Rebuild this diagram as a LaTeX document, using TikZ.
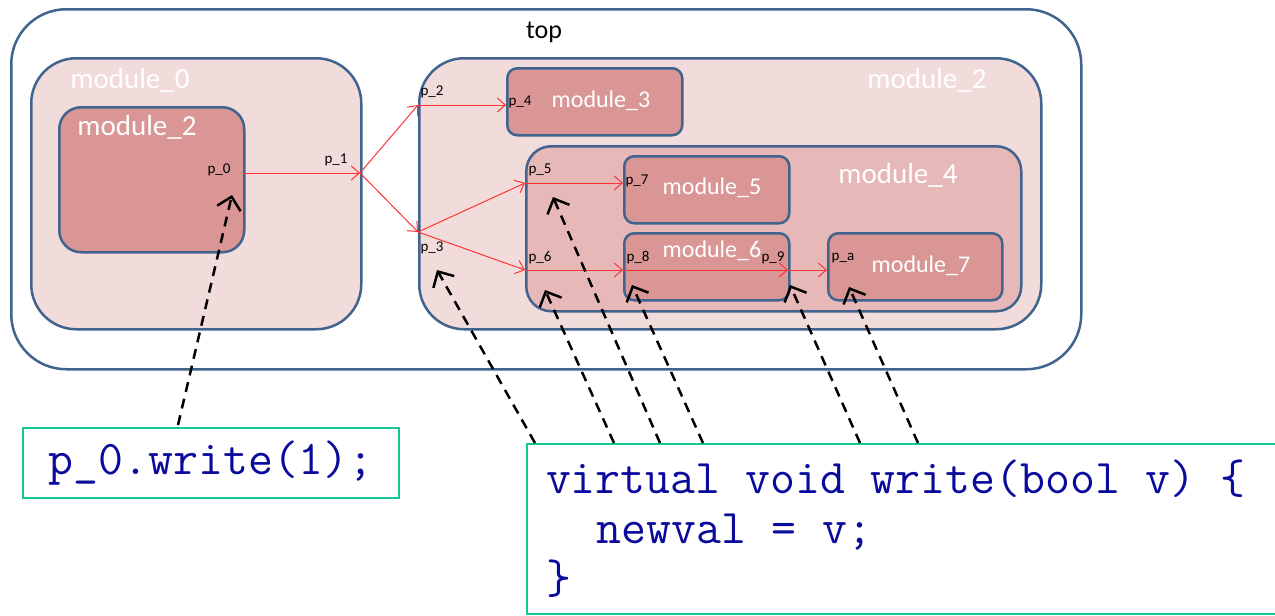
\documentclass[tikz,border=0pt]{standalone}
\usepackage{fontspec}
\setmainfont{Carlito}
\newcommand\codestyle{\ttfamily\fontsize{48.4}{50}\selectfont}
\newcommand\codesp{\hspace*{0.525em}}
\usetikzlibrary{arrows.meta}
\definecolor{frame}{HTML}{41648F}
\definecolor{paleroz}{HTML}{F2DCDB}
\definecolor{midroz}{HTML}{E6B9B8}
\definecolor{darkroz}{HTML}{D99694}
\definecolor{codeblue}{HTML}{0A0A9C}
\definecolor{codeframe}{HTML}{14C896}
\definecolor{sigred}{HTML}{FF3333}
\begin{document}
\begin{tikzpicture}[x=1pt, y=-1pt,
    box/.style={draw=frame, line width=2.5pt, anchor=north west, inner sep=0pt},
    modname/.style={text=white, font=\fontsize{29}{30}\selectfont},
    leafname/.style={text=white, font=\fontsize{24}{26}\selectfont},
    portname/.style={font=\fontsize{15}{16}\selectfont, inner sep=0pt},
    sig/.style={->, >={Straight Barb[length=8pt,width=14pt]}, draw=sigred, line width=1pt},
    call/.style={->, >={Straight Barb[length=12pt,width=24pt]}, line width=2.5pt, dash pattern=on 10pt off 7pt},
    codebox/.style={draw=codeframe, line width=2pt, anchor=north west, text=codeblue, font=\codestyle}
]
    \useasboundingbox (0,0) rectangle (1275,616);

    \node[box, rounded corners=55pt, fill=white, minimum width=1070pt, minimum height=360pt] at (10,8) (top) {};
    \node[font=\fontsize{26}{28}\selectfont] at (544,32) (toplbl) {top};

    \node[box, rounded corners=45pt, fill=paleroz, minimum width=330pt, minimum height=271pt] at (30,57) (m0) {};
    \node[modname] at (130,80) (m0lbl) {module\_0};
    \node[box, rounded corners=22pt, fill=darkroz, minimum width=185pt, minimum height=145pt] at (58,106) (m2a) {};
    \node[modname] at (137,127) (m2albl) {module\_2};

    \node[box, rounded corners=45pt, fill=paleroz, minimum width=622pt, minimum height=271pt] at (418,57) (m2) {};
    \node[modname] at (927,80) (m2lbl) {module\_2};
    \node[box, rounded corners=10pt, fill=darkroz, minimum width=175pt, minimum height=67pt] at (506,67) (m3) {};
    \node[leafname] at (601,101) (m3lbl) {module\_3};
    \node[box, rounded corners=25pt, fill=midroz, minimum width=495pt, minimum height=165pt] at (525,145) (m4) {};
    \node[modname] at (898,175) (m4lbl) {module\_4};
    \node[box, rounded corners=10pt, fill=darkroz, minimum width=165pt, minimum height=67pt] at (623,155) (m5) {};
    \node[leafname] at (712,188) (m5lbl) {module\_5};
    \node[box, rounded corners=10pt, fill=darkroz, minimum width=165pt, minimum height=67pt] at (623,232) (m6) {};
    \node[leafname] at (712,251) (m6lbl) {module\_6};
    \node[box, rounded corners=10pt, fill=darkroz, minimum width=174pt, minimum height=67pt] at (827,232) (m7) {};
    \node[leafname] at (921,266) (m7lbl) {module\_7};

    % ports
    \coordinate (p0) at (243,173);
    \coordinate (p1) at (360,173);
    \coordinate (p2) at (418,105);
    \coordinate (p3) at (418,232);
    \coordinate (p4) at (506,105);
    \coordinate (p5) at (525,183);
    \coordinate (p6) at (525,270);
    \coordinate (p7) at (623,183);
    \coordinate (p8) at (623,270);
    \coordinate (p9) at (788,270);
    \coordinate (pa) at (827,270);

    \node[portname] at (219,170) (l0) {p\_0};
    \node[portname] at (336,160) (l1) {p\_1};
    \node[portname] at (432,92) (l2) {p\_2};
    \node[portname] at (432,248) (l3) {p\_3};
    \node[portname] at (520,102) (l4) {p\_4};
    \node[portname] at (540,170) (l5) {p\_5};
    \node[portname] at (540,258) (l6) {p\_6};
    \node[portname] at (637,181) (l7) {p\_7};
    \node[portname] at (638,258) (l8) {p\_8};
    \node[portname] at (773,258) (l9) {p\_9};
    \node[portname] at (843,258) (la) {p\_a};

    \draw[sig] (p0) -- (p1);
    \draw[sig] (p1) -- (p2);
    \draw[sig] (p1) -- (p3);
    \draw[sig] (p2) -- (p4);
    \draw[sig] (p3) -- (p5);
    \draw[sig] (p3) -- (p6);
    \draw[sig] (p5) -- (p7);
    \draw[sig] (p6) -- (p8);
    \draw[sig] (p8) -- (p9);
    \draw[sig] (p9) -- (pa);

    % code
    \node[codebox, minimum width=376pt, minimum height=70pt, inner sep=0pt] at (22,427) (caller) {p\_0.write(1);};
    \node[codebox, text width=760pt, inner xsep=19pt, inner ysep=16pt, align=left] at (526,443) (callee)
        {virtual\codesp void\codesp write(bool\codesp v)\codesp\{\\
        \codesp\codesp newval\codesp=\codesp v;\\
        \}};

    \coordinate (h0) at (232,195);
    \coordinate (h3) at (437,270);
    \coordinate (h5) at (553,197);
    \coordinate (h6) at (545,290);
    \coordinate (h8) at (632,285);
    \coordinate (h9) at (790,285);
    \coordinate (ha) at (849,287);

    \coordinate (c0) at (178,425);
    \coordinate (c1) at (535,443);
    \coordinate (c2) at (614,443);
    \coordinate (c3) at (660,443);
    \coordinate (c4) at (703,443);
    \coordinate (c5) at (860,443);
    \coordinate (c6) at (918,443);

    \draw[call] (c0) -- (h0);
    \draw[call] (c1) -- (h3);
    \draw[call] (c2) -- (h6);
    \draw[call] (c3) -- (h5);
    \draw[call] (c4) -- (h8);
    \draw[call] (c5) -- (h9);
    \draw[call] (c6) -- (ha);
\end{tikzpicture}
\end{document}
